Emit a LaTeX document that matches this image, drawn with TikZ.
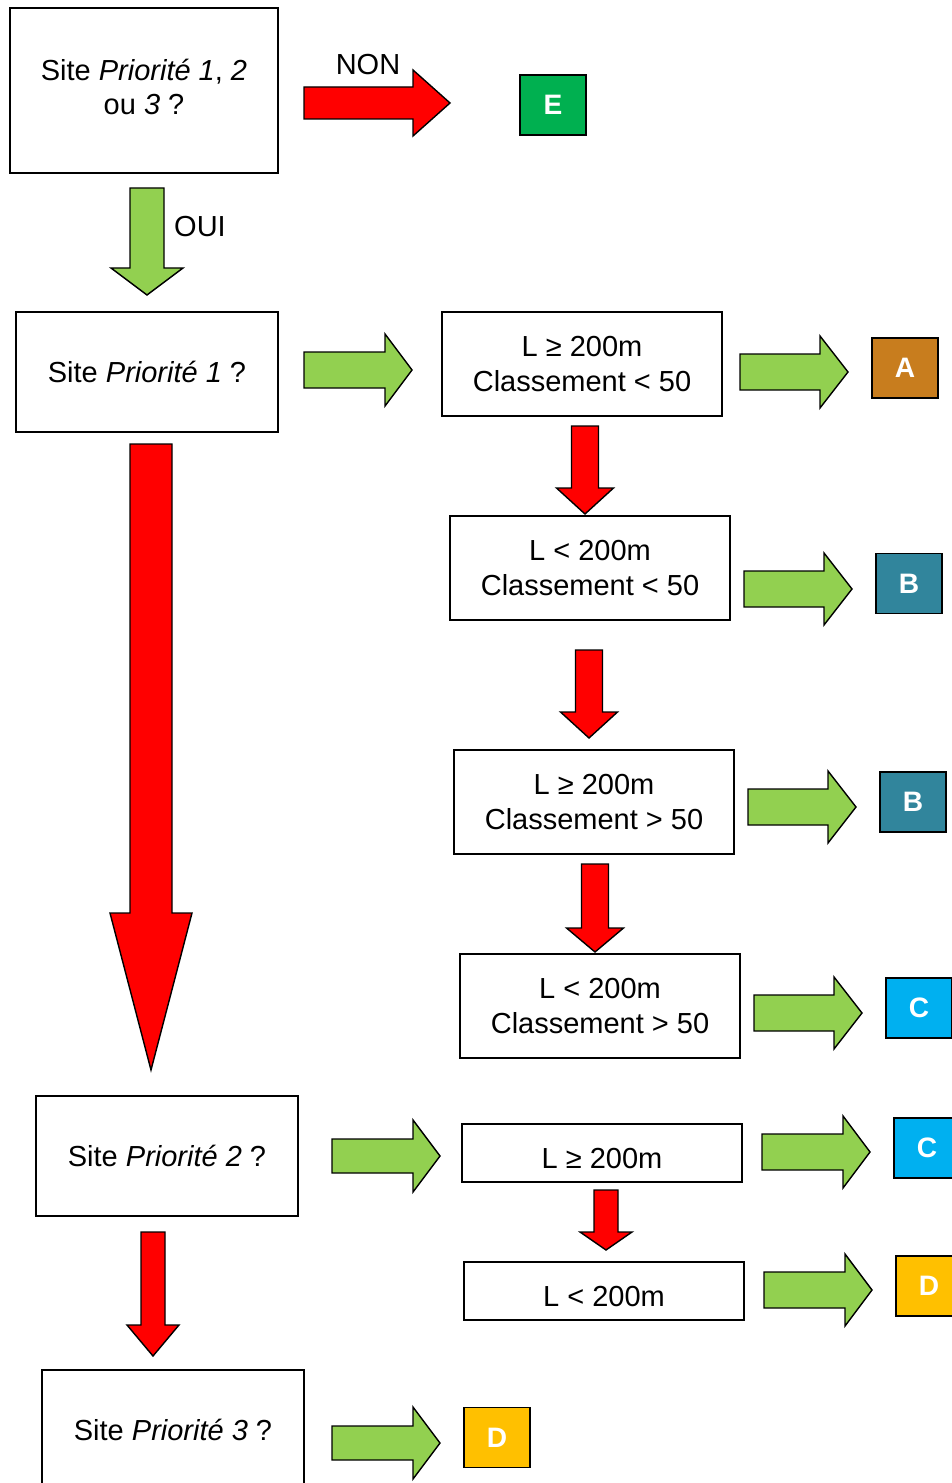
\documentclass[tikz,border=0pt]{standalone}
\usepackage{fontspec}
\setmainfont{Liberation Sans}
\usepackage{tikz}
\usetikzlibrary{positioning}
\definecolor{arrowRed}{HTML}{FF0000}
\definecolor{arrowGreen}{HTML}{92D050}
\definecolor{gradeE}{HTML}{00B050}
\definecolor{gradeA}{HTML}{C87D1E}
\definecolor{gradeB}{HTML}{31859C}
\definecolor{gradeC}{HTML}{00B0F0}
\definecolor{gradeD}{HTML}{FFC000}
\tikzstyle{questionBox}=[draw, line width=0.8pt, align=center, minimum width=5.24cm, minimum height=2.4cm, inner sep=0pt, font=\fontsize{16.5}{19}\selectfont]
\tikzstyle{testBox}=[draw, line width=0.8pt, align=center, minimum width=5.6cm, minimum height=2.08cm, inner sep=0pt, font=\fontsize{16.5}{19.5}\selectfont]
\tikzstyle{gradeBox}=[draw, line width=0.8pt, minimum width=1.32cm, minimum height=1.2cm, inner sep=0pt, text=white, font=\fontsize{16}{19}\selectfont\bfseries]
\tikzstyle{blockArrow}=[draw, line width=0.8pt, line join=miter]
% right block arrow: x1, x2, y, shaft half, head half, head length, colour
\newcommand{\rightArrow}[7]{\draw[blockArrow, fill=#7] (#1,#3-#4) -- (#2-#6,#3-#4) -- (#2-#6,#3-#5) -- (#2,#3) -- (#2-#6,#3+#5) -- (#2-#6,#3+#4) -- (#1,#3+#4) -- cycle;}
% down block arrow: x, y1, y2, shaft half, head half, head length, colour
\newcommand{\downArrow}[7]{\draw[blockArrow, fill=#7] (#1-#4,#2) -- (#1-#4,#3-#6) -- (#1-#5,#3-#6) -- (#1,#3) -- (#1+#5,#3-#6) -- (#1+#4,#3-#6) -- (#1+#4,#2) -- cycle;}

\begin{document}
\begin{tikzpicture}[x=0.02cm, y=-0.02cm]
  \useasboundingbox (0,0) rectangle (952,1483);
  \clip (0,0) rectangle (952,1483);

  % questions
  \node[questionBox, minimum width=5.36cm, minimum height=3.3cm, text depth=4pt] (q123) at (144,90.5) {Site \textit{Priorité 1}, \textit{2}\\ou \textit{3} ?};
  \node[questionBox] (q1) at (147,372) {Site \textit{Priorité 1} ?};
  \node[questionBox] (q2) at (167,1156) {Site \textit{Priorité 2} ?};
  \node[questionBox] (q3) at (173,1430) {Site \textit{Priorité 3} ?};

  % tests
  \node[testBox] (t1) at (582,364) {L ≥ 200m\\Classement < 50};
  \node[testBox] (t2) at (590,568) {L < 200m\\Classement < 50};
  \node[testBox] (t3) at (594,802) {L ≥ 200m\\Classement > 50};
  \node[testBox] (t4) at (600,1006) {L < 200m\\Classement > 50};
  \node[testBox, minimum height=1.16cm, text height=18pt, text depth=0.5pt] (t5) at (602,1153) {L ≥ 200m};
  \node[testBox, minimum height=1.16cm, text height=18pt, text depth=0.5pt] (t6) at (604,1291) {L < 200m};

  % grades
  \node[gradeBox, fill=gradeE] (gE) at (553,105) {E};
  \node[gradeBox, fill=gradeA] (gA) at (905,368) {A};
  \node[gradeBox, fill=gradeB] (gB1) at (909,583.5) {B};
  \node[gradeBox, fill=gradeB] (gB2) at (913,802) {B};
  \node[gradeBox, fill=gradeC] (gC1) at (919,1008) {C};
  \node[gradeBox, fill=gradeC] (gC2) at (927,1148) {C};
  \node[gradeBox, fill=gradeD] (gD1) at (929,1286) {D};
  \node[gradeBox, fill=gradeD] (gD2) at (497,1437.5) {D};

  % arrows
  \rightArrow{304}{450}{103}{16}{33}{37}{arrowRed}
  \node[font=\fontsize{16.5}{19.5}\selectfont] (non) at (368,65) {NON};
  \downArrow{147}{188}{295}{17}{36}{27}{arrowGreen}
  \node[font=\fontsize{16.5}{19.5}\selectfont, anchor=west] (oui) at (168,227) {OUI};

  \rightArrow{304}{412}{370}{18}{36}{27}{arrowGreen}
  \rightArrow{740}{848}{372}{18}{36}{28}{arrowGreen}
  \rightArrow{744}{852}{589}{18}{36}{28}{arrowGreen}
  \rightArrow{748}{856}{807}{18}{36}{28}{arrowGreen}
  \rightArrow{754}{862}{1013}{18}{36}{28}{arrowGreen}
  \rightArrow{332}{440}{1156}{17}{36}{27}{arrowGreen}
  \rightArrow{762}{870}{1152}{18}{36}{27}{arrowGreen}
  \rightArrow{764}{872}{1290}{18}{36}{27}{arrowGreen}
  \rightArrow{332}{440}{1443}{17}{36}{27}{arrowGreen}

  \downArrow{585}{426}{514}{13.5}{28.5}{26}{arrowRed}
  \downArrow{589}{650}{738}{13.5}{28.5}{26}{arrowRed}
  \downArrow{595}{864}{952}{13.5}{28.5}{24}{arrowRed}
  \downArrow{606}{1190}{1250}{12}{26}{18}{arrowRed}
  \downArrow{151}{444}{1070}{21}{41}{157}{arrowRed}
  \downArrow{153}{1232}{1356}{12}{26}{31}{arrowRed}
\end{tikzpicture}
\end{document}
